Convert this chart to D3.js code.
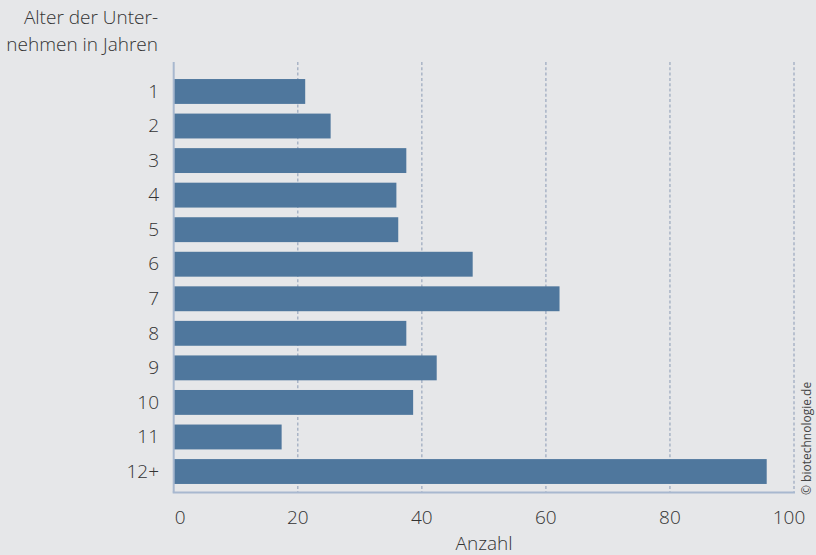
<!DOCTYPE html>
<html>
<head>
<meta charset="utf-8">
<script src="https://cdn.jsdelivr.net/npm/d3@7"></script>
<style>
  body { margin: 0; background: #e6e7e9; }
  svg { display: block; }
  text { font-family: "Open Sans", "Noto Sans", sans-serif; font-weight: 300; fill: #333; }
</style>
</head>
<body>
<div id="chart"></div>
<script>
const categories = ["1", "2", "3", "4", "5", "6", "7", "8", "9", "10", "11", "12+"];
const counts = [21.2, 25.3, 37.5, 35.9, 36.2, 48.2, 62.2, 37.5, 42.4, 38.6, 17.4, 95.6];
const xTicks = [0, 20, 40, 60, 80, 100];
const titleLines = ["Alter der Unter-", "nehmen in Jahren"];

const width = 816;
const height = 555;

const svg = d3.select("#chart")
    .append("svg")
    .attr("width", width)
    .attr("height", height);

svg.append("rect")
    .attr("width", width)
    .attr("height", height)
    .attr("fill", "#e6e7e9");

const x = d3.scaleLinear()
    .domain([0, 100])
    .range([173.7, 794]);

const y = d3.scaleBand()
    .domain(categories)
    .range([66.6, 496.4])
    .paddingInner(0.28)
    .paddingOuter(0.36);

const plotTop = 62;
const plotBottom = 492.5;

// dashed grid lines
svg.append("g")
    .selectAll("line")
    .data(xTicks.filter(d => d > 0))
    .enter()
    .append("line")
    .attr("x1", d => x(d))
    .attr("x2", d => x(d))
    .attr("y1", plotTop)
    .attr("y2", plotBottom)
    .attr("stroke", "#a9b4c6")
    .attr("stroke-width", 1.5)
    .attr("stroke-dasharray", "3,2.3");

// bars
svg.append("g")
    .selectAll("rect")
    .data(counts)
    .enter()
    .append("rect")
    .attr("x", x(0))
    .attr("y", (d, i) => y(categories[i]))
    .attr("width", d => x(d) - x(0))
    .attr("height", y.bandwidth())
    .attr("fill", "#4f779d");

// axis lines
svg.append("line")
    .attr("x1", x(0)).attr("x2", x(0))
    .attr("y1", plotTop).attr("y2", plotBottom)
    .attr("stroke", "#a8b8cf")
    .attr("stroke-width", 2);

svg.append("line")
    .attr("x1", x(0) - 1).attr("x2", x(100) + 1)
    .attr("y1", plotBottom).attr("y2", plotBottom)
    .attr("stroke", "#a8b8cf")
    .attr("stroke-width", 2);

// y labels
svg.append("g")
    .selectAll("text")
    .data(categories)
    .enter()
    .append("text")
    .attr("x", 159)
    .attr("y", d => y(d) + y.bandwidth() / 2)
    .attr("dy", "0.33em")
    .attr("text-anchor", "end")
    .style("font-size", "19px")
    .text(d => d);

// x labels (end labels nudged inward as in the original)
svg.append("g")
    .selectAll("text")
    .data(xTicks)
    .enter()
    .append("text")
    .attr("x", d => x(d) + (d === 0 ? 6.5 : d === 100 ? -5 : 0))
    .attr("y", 524)
    .attr("text-anchor", "middle")
    .style("font-size", "19px")
    .text(d => d);

svg.append("text")
    .attr("x", 484)
    .attr("y", 550)
    .attr("text-anchor", "middle")
    .style("font-size", "19px")
    .text("Anzahl");

// title
svg.append("g")
    .selectAll("text")
    .data(titleLines)
    .enter()
    .append("text")
    .attr("x", 158)
    .attr("y", (d, i) => 24 + i * 26.5)
    .attr("text-anchor", "end")
    .style("font-size", "19px")
    .text(d => d);

// copyright
svg.append("text")
    .attr("transform", "translate(811, 495) rotate(-90)")
    .attr("text-anchor", "start")
    .style("font-size", "12px")
    .style("font-weight", "400")
    .style("fill", "#444")
    .text("© biotechnologie.de");
</script>
</body>
</html>
